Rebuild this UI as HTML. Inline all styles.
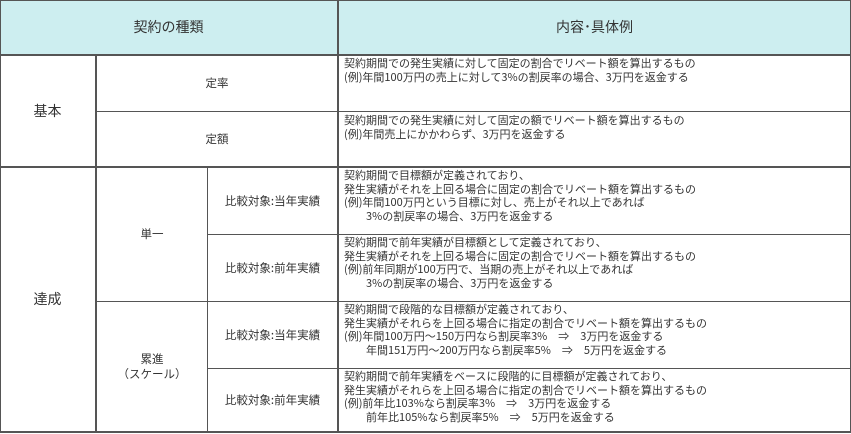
<!DOCTYPE html>
<html><head><meta charset="utf-8"><style>
body{margin:0;width:851px;height:434px;background:#fff;position:relative;overflow:hidden;font-family:"Noto Sans CJK JP","Liberation Sans",sans-serif;color:#333}
.h{position:absolute;background:#555}
.c{position:absolute;display:flex;align-items:center;justify-content:center;text-align:center;font-size:11.5px;line-height:15px}
.t{position:absolute;left:344px;font-size:11px;line-height:13.7px;white-space:pre;color:#333}
</style></head><body>
<div style="position:absolute;left:0;top:0;width:851px;height:55px;background:#cdeef0"></div>
<div class="h" style="left:0;top:0;width:851px;height:1px"></div>
<div class="h" style="left:0;top:54px;width:851px;height:2px"></div>
<div class="h" style="left:96px;top:111px;width:755px;height:1px"></div>
<div class="h" style="left:0;top:166px;width:851px;height:2px"></div>
<div class="h" style="left:207px;top:234px;width:644px;height:1px"></div>
<div class="h" style="left:96px;top:301px;width:755px;height:1px"></div>
<div class="h" style="left:207px;top:368px;width:644px;height:1px"></div>
<div class="h" style="left:0;top:431px;width:851px;height:2px"></div>
<div class="h" style="left:0;top:0;width:1px;height:433px"></div>
<div class="h" style="left:95px;top:55px;width:2px;height:377px"></div>
<div class="h" style="left:207px;top:167px;width:1px;height:265px"></div>
<div class="h" style="left:337px;top:0;width:2px;height:433px"></div>
<div class="h" style="left:850px;top:0;width:1px;height:433px"></div>

<div class="c" style="left:0;top:0;width:337px;height:55px;font-size:14px">契約の種類</div>
<div class="c" style="left:339px;top:0;width:511px;height:55px;font-size:14px">内容･具体例</div>
<div class="c" style="left:0;top:56px;width:95px;height:111px;font-size:14px">基本</div>
<div class="c" style="left:97px;top:56px;width:240px;height:55px">定率</div>
<div class="c" style="left:97px;top:112px;width:240px;height:55px">定額</div>
<div class="c" style="left:0;top:168px;width:95px;height:263px;font-size:14px">達成</div>
<div class="c" style="left:97px;top:168px;width:110px;height:133px">単一</div>
<div class="c" style="left:97px;top:302px;width:110px;height:130px">累進<br>（スケール）</div>
<div class="c" style="left:208px;top:168px;width:129px;height:66px">比較対象:当年実績</div>
<div class="c" style="left:208px;top:235px;width:129px;height:66px">比較対象:前年実績</div>
<div class="c" style="left:208px;top:302px;width:129px;height:66px">比較対象:当年実績</div>
<div class="c" style="left:208px;top:369px;width:129px;height:62px">比較対象:前年実績</div>

<div class="t" style="top:57px">契約期間での発生実績に対して固定の割合でリベート額を算出するもの
(例)年間100万円の売上に対して3%の割戻率の場合、3万円を返金する</div>
<div class="t" style="top:114px">契約期間での発生実績に対して固定の額でリベート額を算出するもの
(例)年間売上にかかわらず、3万円を返金する</div>
<div class="t" style="top:169px">契約期間で目標額が定義されており、
発生実績がそれを上回る場合に固定の割合でリベート額を算出するもの
(例)年間100万円という目標に対し、売上がそれ以上であれば
　　3%の割戻率の場合、3万円を返金する</div>
<div class="t" style="top:236px">契約期間で前年実績が目標額として定義されており、
発生実績がそれを上回る場合に固定の割合でリベート額を算出するもの
(例)前年同期が100万円で、当期の売上がそれ以上であれば
　　3%の割戻率の場合、3万円を返金する</div>
<div class="t" style="top:303px">契約期間で段階的な目標額が定義されており、
発生実績がそれらを上回る場合に指定の割合でリベート額を算出するもの
(例)年間100万円～150万円なら割戻率3%　⇒　3万円を返金する
　　年間151万円～200万円なら割戻率5%　⇒　5万円を返金する</div>
<div class="t" style="top:370px">契約期間で前年実績をベースに段階的に目標額が定義されており、
発生実績がそれらを上回る場合に指定の割合でリベート額を算出するもの
(例)前年比103%なら割戻率3%　⇒　3万円を返金する
　　前年比105%なら割戻率5%　⇒　5万円を返金する</div>
</body></html>
